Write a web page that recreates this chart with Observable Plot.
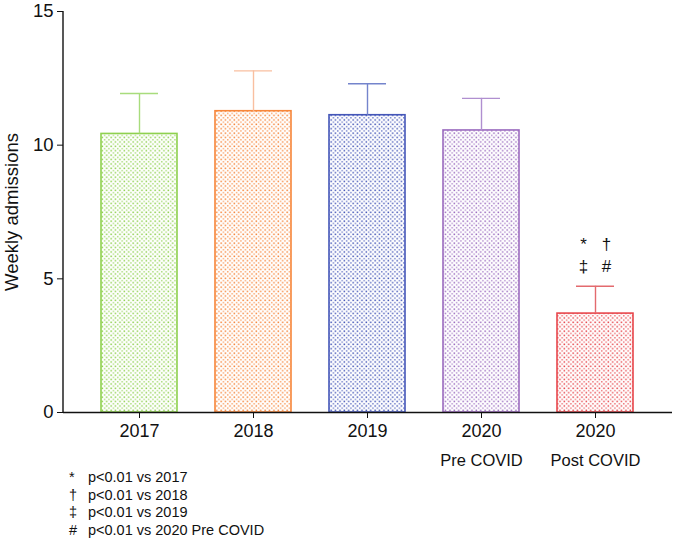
<!DOCTYPE html>
<html>
<head>
<meta charset="utf-8">
<script src="https://cdn.jsdelivr.net/npm/d3@7"></script>
<script src="https://cdn.jsdelivr.net/npm/@observablehq/plot@0.6"></script>
<style>
  html, body { margin: 0; padding: 0; background: #fff; }
  body { width: 673px; height: 540px; overflow: hidden; font-family: "Liberation Sans", Arial, sans-serif; }
  #chart svg { display: block; }
  #foot { font-size: 14.5px; color: #111; line-height: 17.5px; margin-top: 1px; }
  #foot .row { display: flex; }
  #foot .sym { width: 19px; padding-left: 69px; box-sizing: content-box; }
</style>
</head>
<body>
<div id="chart"></div>
<div id="foot"></div>
<script>
const categories = ["2017", "2018", "2019", "2020 Pre COVID", "2020 Post COVID"];
const years = ["2017", "2018", "2019", "2020", "2020"];
const subLabels = ["", "", "", "Pre COVID", "Post COVID"];
const means = [10.42, 11.27, 11.12, 10.55, 3.70];
const upperErr = [11.93, 12.78, 12.30, 11.75, 4.72];
const strokeColors = ["#8fd14f", "#f7863a", "#4456b8", "#9b6bbf", "#e8464c"];
const errColors = ["#a8dc7c", "#f9bfa0", "#7484cc", "#b08fd0", "#e36a6e"];
const annotLeft = ["*", "‡"];
const annotRight = ["†", "#"];
const annotY = [6.3, 5.45];
const footSymbols = ["*", "†", "‡", "#"];
const footTexts = ["p<0.01 vs 2017", "p<0.01 vs 2018", "p<0.01 vs 2019", "p<0.01 vs 2020 Pre COVID"];

const data = categories.map((c, i) => ({
  cat: c, year: years[i], sub: subLabels[i], mean: means[i], err: upperErr[i],
  stroke: strokeColors[i], errColor: errColors[i], pat: `url(#pat${i})`
}));
const annots = annotLeft.map((s, i) => ({cat: categories[4], left: s, right: annotRight[i], y: annotY[i]}));

const chart = Plot.plot({
  width: 673,
  height: 468,
  marginLeft: 63,
  marginRight: 1,
  marginTop: 11,
  marginBottom: 56,
  style: {fontFamily: "Liberation Sans, Arial, sans-serif", color: "#111", background: "white"},
  x: {domain: categories, padding: 0.33, label: null},
  y: {domain: [0, 15], ticks: [0, 5, 10, 15], label: null},
  marks: [
    Plot.barY(data, {x: "cat", y: "mean", fill: "pat", stroke: "stroke", strokeWidth: 1.6}),
    Plot.ruleX(data, {x: "cat", y1: "mean", y2: "err", stroke: "errColor", strokeWidth: 1.4}),
    Plot.tickY(data, {x: "cat", y: "err", stroke: "errColor", strokeWidth: 1.4, insetLeft: 19, insetRight: 19}),
    Plot.text(annots, {x: "cat", y: "y", text: "left", dx: -12, fontSize: 17, fill: "#111"}),
    Plot.text(annots, {x: "cat", y: "y", text: "right", dx: 11, fontSize: 17, fill: "#111"}),
    Plot.ruleY([0], {stroke: "#111", strokeWidth: 1.4}),
    Plot.axisY({ticks: [0, 5, 10, 15], tickSize: 6, tickPadding: 4, fontSize: 18.5, label: null}),
    Plot.axisX({tickSize: 6, tickPadding: 6, fontSize: 18, tickFormat: (d, i) => years[i], label: null}),
    Plot.axisX({tickSize: 0, tickPadding: 42, fontSize: 16.5, tickFormat: (d, i) => subLabels[i], label: null}),
    Plot.text(["Weekly admissions"], {frameAnchor: "left", textAnchor: "middle", rotate: -90, dx: -51, fontSize: 18.5, fill: "#111"})
  ]
});

// y axis line
const svg = d3.select(chart);
svg.append("line")
  .attr("x1", 63).attr("x2", 63).attr("y1", 11).attr("y2", 412)
  .attr("stroke", "#111").attr("stroke-width", 1.4);

const defs = svg.insert("defs", ":first-child");
strokeColors.forEach((c, i) => {
  const p = defs.append("pattern").attr("id", `pat${i}`)
    .attr("patternUnits", "userSpaceOnUse").attr("width", 4.4).attr("height", 4.4);
  p.append("rect").attr("width", 4.4).attr("height", 4.4).attr("fill", "white");
  p.append("rect").attr("x", 0.4).attr("y", 0.4).attr("width", 1.5).attr("height", 1.5).attr("fill", c).attr("opacity", 1);
  p.append("rect").attr("x", 2.6).attr("y", 2.6).attr("width", 1.5).attr("height", 1.5).attr("fill", c).attr("opacity", 0.7);
});

document.getElementById("chart").appendChild(chart);

const foot = d3.select("#foot");
footSymbols.forEach((s, i) => {
  const r = foot.append("div").attr("class", "row");
  r.append("span").attr("class", "sym").text(s);
  r.append("span").text(footTexts[i]);
});
</script>
</body>
</html>
